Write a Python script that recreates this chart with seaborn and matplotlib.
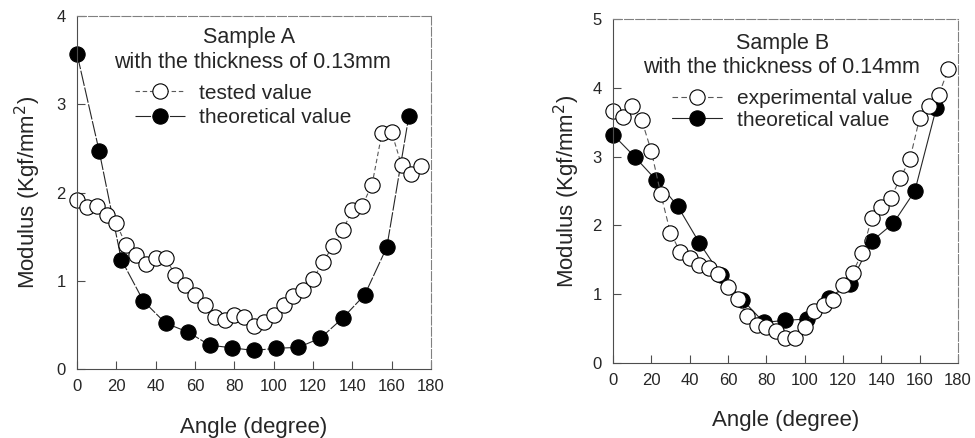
import matplotlib
matplotlib.use("Agg")
import matplotlib.pyplot as plt
import seaborn as sns
from matplotlib.lines import Line2D

# angles (degree)
tested_angles = [0, 5, 10, 15, 20, 25, 30, 35, 40, 45, 50, 55, 60, 65, 70, 75, 80, 85,
                 90, 95, 100, 105, 110, 115, 120, 125, 130, 135, 140, 145, 150, 155,
                 160, 165, 170, 175]
theory_angles = [0, 11.25, 22.5, 33.75, 45, 56.25, 67.5, 78.75, 90, 101.25, 112.5,
                 123.75, 135, 146.25, 157.5, 168.75]

# Sample A (0.13mm)
a_tested = [1.92, 1.84, 1.85, 1.75, 1.65, 1.40, 1.29, 1.19, 1.26, 1.26, 1.06, 0.95,
            0.84, 0.72, 0.59, 0.55, 0.61, 0.59, 0.49, 0.53, 0.61, 0.72, 0.83, 0.89,
            1.02, 1.21, 1.39, 1.57, 1.80, 1.85, 2.09, 2.67, 2.68, 2.31, 2.21, 2.30]
a_theory = [3.57, 2.47, 1.24, 0.77, 0.52, 0.42, 0.27, 0.24, 0.21, 0.235, 0.245,
            0.35, 0.575, 0.84, 1.38, 2.87]

# Sample B (0.14mm)
b_tested = [3.66, 3.58, 3.74, 3.53, 3.08, 2.45, 1.89, 1.62, 1.52, 1.42, 1.38, 1.30,
            1.10, 0.93, 0.68, 0.55, 0.52, 0.46, 0.36, 0.36, 0.52, 0.75, 0.85, 0.92,
            1.14, 1.31, 1.60, 2.11, 2.27, 2.40, 2.69, 2.97, 3.56, 3.74, 3.90, 4.27]
b_theory = [3.32, 3.00, 2.66, 2.28, 1.75, 1.28, 0.92, 0.59, 0.62, 0.64, 0.95, 1.15,
            1.77, 2.03, 2.50, 3.71]

x_ticks = [0, 20, 40, 60, 80, 100, 120, 140, 160, 180]

sns.set_theme(style="ticks")
plt.rcParams['font.family'] = ['Liberation Sans', 'DejaVu Sans']

fig = plt.figure(figsize=(9.75, 4.38), dpi=100)
ax1 = fig.add_axes([0.0790, 0.1575, 0.3631, 0.806])
ax2 = fig.add_axes([0.6287, 0.1712, 0.3538, 0.7854])

panels = [
    (ax1, a_tested, a_theory, 4, "Sample A", "with the thickness of 0.13mm",
     "tested value", (0, (4, 2.5)), (0, (14, 1.5)),
     (0.485, 0.940), (0.494, 0.867), (0.163, 0.808), 0.25, 17, 10),
    (ax2, b_tested, b_theory, 5, "Sample B", "with the thickness of 0.14mm",
     "experimental value", (0, (5, 3)), "-",
     (0.491, 0.930), (0.489, 0.858), (0.171, 0.796), 0.12, 16, 7.5),
]

for (ax, tested, theory, ytop, title1, title2, tlabel, tls, thls,
     p1, p2, legpos, lspace, xpad, ypad) in panels:
    # theoretical first so the open circles sit on top
    sns.lineplot(x=theory_angles, y=theory, ax=ax, color="0.15", linewidth=0.8,
                 linestyle=thls, marker="o", markersize=11,
                 markerfacecolor="black", markeredgecolor="black",
                 markeredgewidth=0.8, clip_on=False)
    sns.lineplot(x=tested_angles, y=tested, ax=ax, color="0.35", linewidth=0.8,
                 linestyle=tls, marker="o", markersize=11,
                 markerfacecolor="white", markeredgecolor="black",
                 markeredgewidth=0.8, clip_on=False)

    ax.set_xlim(0, 180)
    ax.set_ylim(0, ytop)
    ax.set_xticks(x_ticks)
    ax.set_yticks(list(range(ytop + 1)))
    ax.tick_params(direction="in", length=6, width=0.8, color="0.3",
                   labelsize=12, pad=7)
    ax.tick_params(axis="y", pad=8)
    for side in ["left", "bottom"]:
        ax.spines[side].set_color("0.3")
        ax.spines[side].set_linewidth(0.8)
    for side in ["top", "right"]:
        ax.spines[side].set_color("0.5")
        ax.spines[side].set_linewidth(0.8)
        ax.spines[side].set_linestyle((0, (8, 2)))

    ax.set_xlabel("Angle (degree)", fontsize=16, labelpad=xpad)
    ax.set_ylabel("Modulus (Kgf/mm$^2$)", fontsize=16, labelpad=ypad)

    ax.text(p1[0], p1[1], title1, transform=ax.transAxes, ha="center",
            va="center", fontsize=15.5)
    ax.text(p2[0], p2[1], title2, transform=ax.transAxes, ha="center",
            va="center", fontsize=15.5)

    h_test = Line2D([], [], color="0.35", linewidth=0.8, linestyle=tls,
                    marker="o", markersize=11, markerfacecolor="white",
                    markeredgecolor="black", markeredgewidth=0.8)
    h_theo = Line2D([], [], color="0.15", linewidth=0.8, linestyle=thls,
                    marker="o", markersize=11, markerfacecolor="black",
                    markeredgecolor="black", markeredgewidth=0.8)
    ax.legend([h_test, h_theo], [tlabel, "theoretical value"], loc="upper left",
              bbox_to_anchor=legpos, frameon=False, fontsize=15, borderpad=0,
              borderaxespad=0, handlelength=2.4, handletextpad=0.7,
              labelspacing=lspace)

fig.savefig("out.png", dpi=100)
